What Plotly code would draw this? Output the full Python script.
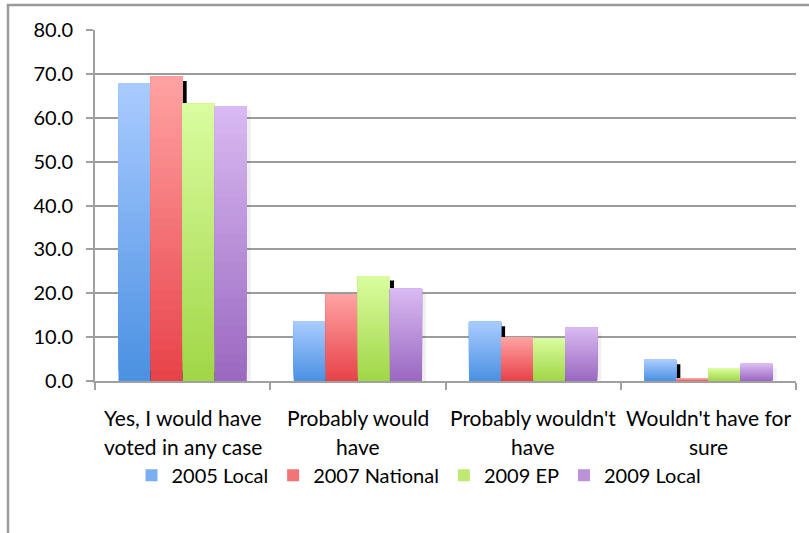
import plotly.graph_objects as go

# Survey answers (categories) and share of respondents per election (%)
categories = ["Yes, I would have<br>voted in any case", "Probably would<br>have",
              "Probably wouldn't<br>have", "Wouldn't have for<br>sure"]
series_names = ["2005 Local", "2007 National", "2009 EP", "2009 Local"]
local_2005 = [67.9, 13.6, 13.5, 4.8]
national_2007 = [69.4, 19.8, 10.0, 0.6]
ep_2009 = [63.2, 23.9, 9.8, 2.9]
local_2009 = [62.7, 21.1, 12.2, 3.9]
series_values = [local_2005, national_2007, ep_2009, local_2009]
y_ticks = [0, 10, 20, 30, 40, 50, 60, 70, 80]

# gradient end colours (bottom, top) for each series
grad = [((74, 144, 226), (170, 204, 255)),
        ((231, 66, 72), (255, 163, 163)),
        ((160, 214, 70), (218, 253, 160)),
        ((154, 104, 192), (217, 186, 242))]
shadow_colors = ["black", "black", "black", "rgba(0,0,0,0.06)"]

W, H = 809, 533
L, R, T, B = 95, 13, 30, 151.5
PW, PH = W - L - R, H - T - B

bar_w = 0.183
n_ser = len(series_values)
offsets = [(-n_ser / 2 + i) * bar_w for i in range(n_ser)]
x_idx = list(range(len(categories)))
boundaries = [j - 0.5 for j in range(len(categories) + 1)]
N_SEG = 30


def mix(c0, c1, t):
    return "rgb(%d,%d,%d)" % tuple(round(a + (b - a) * t) for a, b in zip(c0, c1))


fig = go.Figure()
for i, vals in enumerate(series_values):
    # drop shadow behind each bar (offset a few pixels right and down)
    fig.add_trace(go.Bar(
        x=x_idx, y=[max(v - 1.0, 0) for v in vals],
        offset=offsets[i] + 0.023, width=bar_w,
        marker=dict(color=shadow_colors[i], line_width=0),
        showlegend=False, hoverinfo="skip"))
    # vertical gradient built from overlapping slices, bottom to top
    for k in range(N_SEG):
        f = k / N_SEG
        fig.add_trace(go.Bar(
            x=x_idx, y=[v * (1 - f) for v in vals], base=[v * f for v in vals],
            offset=offsets[i], width=bar_w,
            marker=dict(color=mix(grad[i][0], grad[i][1], f + 0.5 / N_SEG), line_width=0),
            name=series_names[i], legendgroup=series_names[i],
            showlegend=(k == N_SEG // 2), hoverinfo="skip"))

font_family = "Lato"

# two-line category labels under each group
annotations = []
line_y = [418, 447]
for j, cat in enumerate(categories):
    for li, line in enumerate(cat.split("<br>")):
        annotations.append(dict(
            x=j, xref="x", y=(T + PH - line_y[li]) / PH, yref="paper",
            text=line, showarrow=False, xanchor="center", yanchor="middle",
            font=dict(family=font_family, size=21, color="black")))

# outer frame of the chart (open on the right and bottom edges)
shapes = [dict(type="rect", xref="paper", yref="paper",
               x0=(8 - L) / PW, x1=(W + 40 - L) / PW,
               y0=(T + PH - (H + 40)) / PH, y1=(T + PH - 5) / PH,
               line=dict(color="#9a9a9a", width=2.5), fillcolor="rgba(0,0,0,0)",
               layer="below")]

fig.update_layout(
    width=W, height=H,
    margin=dict(l=L, r=R, t=T, b=B, pad=0),
    paper_bgcolor="white", plot_bgcolor="white",
    barmode="overlay",
    font=dict(family=font_family, size=18, color="black"),
    xaxis=dict(
        tickmode="array", tickvals=boundaries, ticktext=[""] * len(boundaries),
        range=[-0.5, len(categories) - 0.5],
        showgrid=False, showline=True, linecolor="#a0a0a0", linewidth=2,
        ticks="outside", ticklen=7, tickwidth=2, tickcolor="#a0a0a0",
        zeroline=False, fixedrange=True),
    yaxis=dict(
        range=[0, 80], tickmode="array", tickvals=y_ticks,
        ticktext=["%.1f" % t for t in y_ticks],
        showgrid=True, gridcolor="#9c9c9c", gridwidth=2,
        showline=True, linecolor="#a0a0a0", linewidth=2,
        ticks="outside", ticklen=7, tickwidth=2, tickcolor="#a0a0a0",
        ticklabelstandoff=9, zeroline=False,
        tickfont=dict(family=font_family, size=20, color="black")),
    legend=dict(orientation="h", x=(419 - L) / PW, xanchor="center",
                y=(T + PH - 476) / PH, yanchor="middle",
                font=dict(family=font_family, size=20, color="black"),
                traceorder="normal", itemwidth=30),
    annotations=annotations,
    shapes=shapes,
)

fig.write_html("out.html")
